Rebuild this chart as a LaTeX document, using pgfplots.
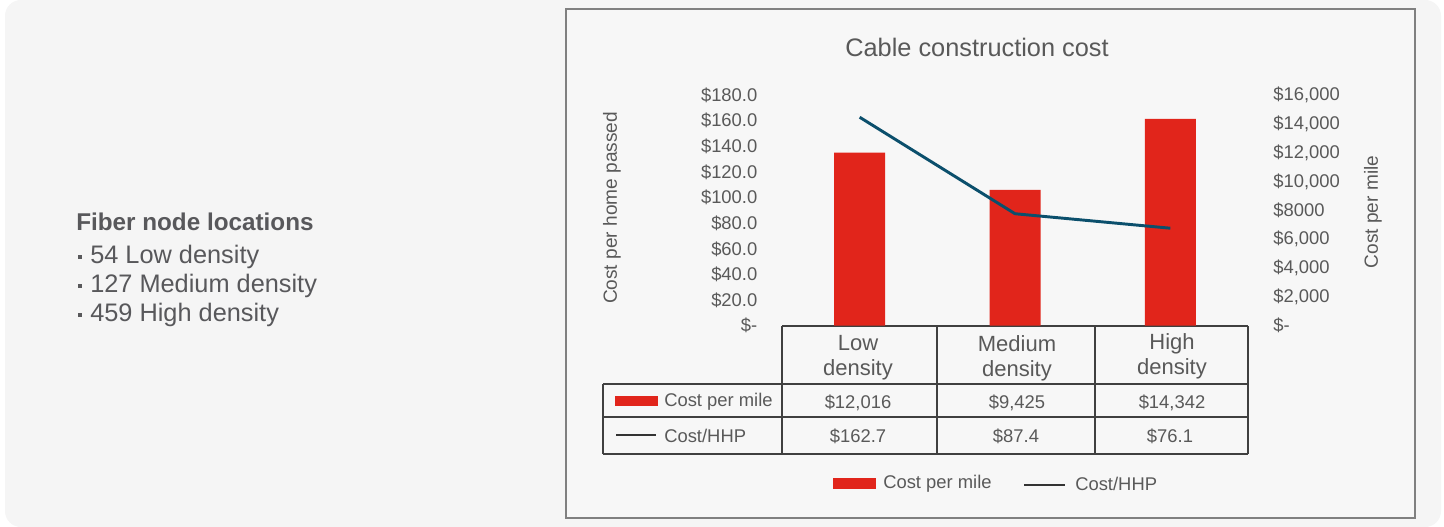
\documentclass[border=0pt]{standalone}
\usepackage{pgfplots}
\pgfplotsset{compat=1.18}
\usepackage{fontspec}
\setmainfont{Liberation Sans}
\definecolor{panel}{HTML}{F5F5F5}
\definecolor{chartbg}{HTML}{F7F7F7}
\definecolor{boxborder}{HTML}{808080}
\definecolor{txtgray}{HTML}{595959}
\definecolor{lefttxt}{HTML}{58585B}
\definecolor{barred}{HTML}{E1251B}
\definecolor{linecol}{HTML}{0B4F6C}
\definecolor{tabline}{HTML}{404040}
\newcommand\fs[2]{\fontsize{#1}{#2}\selectfont}
\begin{document}
\begin{tikzpicture}
\begin{scope}[x=0.75pt,y=-0.75pt]
\useasboundingbox (0,0) rectangle (1444,527);
\fill[white] (0,0) rectangle (1444,527);
\fill[panel, rounded corners=12pt] (5,0) rectangle (1441,527);
\draw[boxborder, line width=1.1pt, fill=chartbg] (566,9) rectangle (1415,518);
% left text
\node[anchor=west, text=lefttxt, font=\fs{18.2pt}{22pt}\bfseries, inner sep=0pt] at (76,222) {Fiber node locations};
\foreach \yy/\tt in {257/54 Low density, 286/127 Medium density, 315/459 High density}{
  \fill[lefttxt] (77.5,\yy-2) rectangle (81.5,\yy+2);
  \node[anchor=west, text=lefttxt, font=\fs{19pt}{22pt}, inner sep=0pt] at (90,\yy) {\tt};
}
% title
\node[text=txtgray, font=\fs{19pt}{22pt}] at (977,47) {Cable construction cost};
% axis labels
\node[text=txtgray, font=\fs{14.3pt}{16pt}, rotate=90] at (612,208) {Cost per home passed};
\node[text=txtgray, font=\fs{14.3pt}{16pt}, rotate=90] at (1373,212) {Cost per mile};
% table lines
\begin{scope}[tabline, line width=1pt]
\draw (782,326) -- (1248,326);
\draw (603,384) -- (1248,384);
\draw (603,417) -- (1248,417);
\draw (603,454) -- (1248,454);
\draw (603,384) -- (603,454);
\draw (782,326) -- (782,454);
\draw (937,326) -- (937,454);
\draw (1095,326) -- (1095,454);
\draw (1248,326) -- (1248,454);
\end{scope}
% header
\node[text=txtgray, font=\fs{16.5pt}{18.75pt}, align=center] at (858,358) {Low\\density};
\node[text=txtgray, font=\fs{16.5pt}{18.75pt}, align=center] at (1017,358) {Medium\\density};
\node[text=txtgray, font=\fs{16.5pt}{18.75pt}, align=center] at (1172,356) {High\\density};
% row 1
\fill[barred] (615,396) rectangle (658,406);
\node[anchor=west, text=txtgray, font=\fs{13.8pt}{16pt}, inner sep=0pt] at (664,402) {Cost per mile};
\node[text=txtgray, font=\fs{13.8pt}{16pt}] at (858,403) {\$12,016};
\node[text=txtgray, font=\fs{13.8pt}{16pt}] at (1017,403) {\$9,425};
\node[text=txtgray, font=\fs{13.8pt}{16pt}] at (1172,403) {\$14,342};
% row 2
\draw[black!80, line width=2pt] (616,435) -- (656,435);
\node[anchor=west, text=txtgray, font=\fs{13.8pt}{16pt}, inner sep=0pt] at (664,436) {Cost/HHP};
\node[text=txtgray, font=\fs{13.8pt}{16pt}] at (858,436) {\$162.7};
\node[text=txtgray, font=\fs{13.8pt}{16pt}] at (1016,436) {\$87.4};
\node[text=txtgray, font=\fs{13.8pt}{16pt}] at (1170,436) {\$76.1};
% legend
\fill[barred] (833,478) rectangle (876,489);
\node[anchor=west, text=txtgray, font=\fs{13.8pt}{16pt}, inner sep=0pt] at (883,484) {Cost per mile};
\draw[black!80, line width=2pt] (1024,485) -- (1065,485);
\node[anchor=west, text=txtgray, font=\fs{13.8pt}{16pt}, inner sep=0pt] at (1075,484) {Cost/HHP};
\end{scope}
% bars (right axis)
\begin{axis}[at={(586.5pt,-244.3pt)}, anchor=south west, scale only axis,
  width=349.5pt, height=173pt,
  xmin=-0.5, xmax=2.5, ymin=0, ymax=16000,
  axis y line*=right, axis x line=none,
  y axis line style={draw=none},
  scaled y ticks=false,
  ytick={0,2000,...,16000},
  yticklabels={{\$-},{\$2,000},{\$4,000},{\$6,000},{\$8000},{\$10,000},{\$12,000},{\$14,000},{\$16,000}},
  major tick length=0pt, ytick style={draw=none},
  yticklabel style={font=\fs{13.8pt}{16pt}, text=txtgray, anchor=west, xshift=15.5pt},
  clip=false]
\addplot[ybar, bar width=38.25pt, fill=barred, draw=none] coordinates {(0,12016) (1,9425) (2,14342)};
\end{axis}
% line (left axis)
\begin{axis}[at={(586.5pt,-244.3pt)}, anchor=south west, scale only axis,
  width=349.5pt, height=173pt,
  xmin=-0.5, xmax=2.5, ymin=0, ymax=180,
  axis y line*=left, axis x line=none,
  y axis line style={draw=none},
  scaled y ticks=false,
  ytick={0,20,...,180},
  yticklabels={{\$-\hspace{5pt}},{\$20.0},{\$40.0},{\$60.0},{\$80.0},{\$100.0},{\$120.0},{\$140.0},{\$160.0},{\$180.0}},
  major tick length=0pt, ytick style={draw=none},
  yticklabel style={font=\fs{13.8pt}{16pt}, text=txtgray, anchor=east, xshift=-15pt},
  clip=false]
\addplot[linecol, line width=2.2pt, mark=none] coordinates {(0,162.7) (1,87.4) (2,76.1)};
\end{axis}
\end{tikzpicture}
\end{document}
